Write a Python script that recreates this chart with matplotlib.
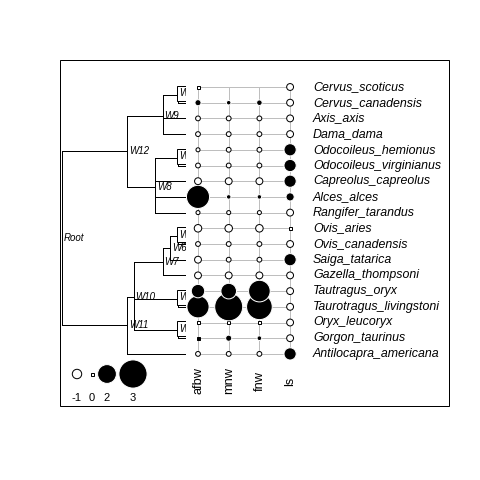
import numpy as np
import matplotlib
matplotlib.use("Agg")
import matplotlib.pyplot as plt
from matplotlib.patches import Circle, Rectangle

plt.rcParams['font.family'] = ['Liberation Sans', 'DejaVu Sans']

# ---------------- data ----------------
species = ["Cervus_scoticus", "Cervus_canadensis", "Axis_axis", "Dama_dama",
           "Odocoileus_hemionus", "Odocoileus_virginianus", "Capreolus_capreolus",
           "Alces_alces", "Rangifer_tarandus", "Ovis_aries", "Ovis_canadensis",
           "Saiga_tatarica", "Gazella_thompsoni", "Tautragus_oryx",
           "Taurotragus_livingstoni", "Oryx_leucoryx", "Gorgon_taurinus",
           "Antilocapra_americana"]
traits = ["afbw", "mnw", "fnw", "ls"]
nan = float("nan")
afbw = [-0.05, 0.65, -0.51, -0.51, -0.43, -0.51, -0.73, 2.46, -0.43,
        -0.80, -0.51, -0.73, -0.73, 1.43, 2.36, -0.05, 0.05, -0.51]
mnw = [nan, 0.48, -0.51, -0.51, -0.51, -0.51, -0.73, 0.48, -0.43,
       -0.80, -0.51, -0.51, -0.73, 1.66, 2.98, -0.05, 0.65, -0.51]
fnw = [nan, 0.59, -0.51, -0.51, -0.51, -0.51, -0.73, 0.48, -0.43,
       -0.80, -0.51, -0.51, -0.73, 2.30, 2.73, -0.05, 0.50, -0.51]
ls = [-0.73, -0.73, -0.73, -0.73, 1.30, 1.30, 1.30, 0.87, -0.73,
      -0.05, -0.73, 1.30, -0.73, -0.73, -0.73, -0.73, -0.73, 1.30]
values = [afbw, mnw, fnw, ls]

# tree: (label, relative depth from root, children); ints are tip indices
tree = ("Root", 0.0, [
    ("W12", 0.53, [
        ("W9", 0.82, [("W1", 0.94, [0, 1]), 2, 3]),
        ("W8", 0.76, [("W2", 0.94, [4, 5]), 6, 7, 8])]),
    ("W11", 0.53, [
        ("W10", 0.585, [
            ("W7", 0.82, [("W6", 0.88, [("W3", 0.94, [9, 10]), 11]), 12]),
            ("W4", 0.94, [13, 14]),
            ("W5", 0.94, [15, 16])]),
        17])])

legend_values = [-1, 0, 2, 3]

# ---------------- layout ----------------
ROW0, DROW = 87.0, 15.7
COL0, DCOL = 198.0, 30.7
TREE_X0, TREE_X1 = 62.0, 185.0
K = 4.7            # pixels of radius per unit of value
PX = 0.72          # one pixel in points
LEG_X = [77, 92, 107, 133]
LEG_Y = 374
GREY = "#BEBEBE"

fig = plt.figure(figsize=(4.8, 4.8), dpi=100)
ax = fig.add_axes([0, 0, 1, 1])
ax.set_xlim(0, 480)
ax.set_ylim(480, 0)
ax.axis("off")


def row_y(i):
    return ROW0 + i * DROW


def col_x(j):
    return COL0 + j * DCOL


# frame
ax.add_patch(Rectangle((59.5, 59.5), 389.5, 346.5, fill=False, lw=PX, ec="black"))

# grid
n = len(species)
for i in range(n):
    ax.plot([col_x(0), col_x(len(traits) - 1)], [row_y(i)] * 2, color=GREY, lw=PX, zorder=1)
for j in range(len(traits)):
    ax.plot([col_x(j)] * 2, [row_y(0), row_y(n - 1)], color=GREY, lw=PX, zorder=1)


def draw_value(x, y, v):
    if v != v:
        return
    r = K * abs(v)
    pos = v > 0
    if r < 1.5:
        ax.add_patch(Rectangle((x - 1.5, y - 1.5), 3, 3,
                               fc="black" if pos else "white", ec="black",
                               lw=PX, zorder=2))
    else:
        ax.add_patch(Circle((x, y), r, fc="black" if pos else "white",
                            ec="white" if pos else "black", lw=PX, zorder=2))


# symbols drawn from the bottom row upwards
for i in reversed(range(n)):
    for j in range(len(traits)):
        draw_value(col_x(j), row_y(i), values[j][i])

# species labels
for i, s in enumerate(species):
    ax.text(313, row_y(i), s, fontsize=8.9, style="italic", ha="left", va="center")

# trait labels
for j, t in enumerate(traits):
    ax.text(col_x(j), 381, t, fontsize=9.2, rotation=90, ha="center", va="center")

# tree
clip = Rectangle((0, 0), TREE_X1 + 0.5, 480, transform=ax.transData)
labels = []


def place(node):
    if isinstance(node, int):
        return TREE_X1, row_y(node)
    label, d, kids = node
    pts = [place(k) for k in kids]
    x = TREE_X0 + d * (TREE_X1 - TREE_X0)
    ys = [p[1] for p in pts]
    y = float(np.mean(ys))
    ax.plot([x, x], [min(ys), max(ys)], color="black", lw=PX, zorder=3)
    for cx, cy in pts:
        ax.plot([x, cx], [cy, cy], color="black", lw=PX, zorder=3)
    cherry = all(isinstance(k, int) for k in kids)
    labels.append((label, x, y, cherry))
    return x, y


place(tree)

for label, x, y, cherry in labels:
    if cherry:
        t = ax.text(x + 1.5, y - 1.5, label, fontsize=7, style="italic",
                    ha="left", va="center", zorder=4,
                    bbox=dict(boxstyle="square,pad=0.25", fc="white", ec="black", lw=PX))
    else:
        t = ax.text(x + 1.5, y, label, fontsize=7, style="italic",
                    ha="left", va="center", zorder=4)
    t.set_clip_on(True)
    t.set_clip_path(clip)

# legend
for v, lx in zip(legend_values, LEG_X):
    draw_value(lx, LEG_Y, v)
    ax.text(lx, 398, str(v), fontsize=8, ha="center", va="center")

fig.savefig("out.png", dpi=100)
